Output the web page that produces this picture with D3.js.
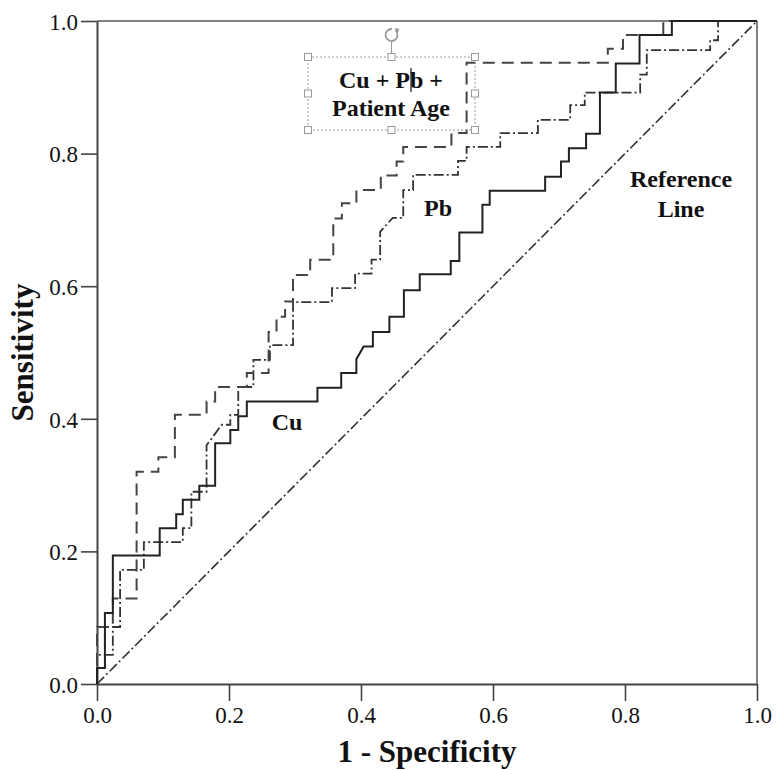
<!DOCTYPE html>
<html>
<head>
<meta charset="utf-8">
<style>
  body { margin: 0; background: #fff; }
  #roc text { font-family: "Liberation Serif", "Times New Roman", serif; fill: #111; }
  #roc .tick text { font-size: 23px; }
  #roc .lbl { font-size: 24px; font-weight: bold; }
  #roc .title { font-size: 31px; font-weight: bold; }
</style>
</head>
<body>
<div id="roc"></div>
<script src="https://cdn.jsdelivr.net/npm/d3@7"></script>
<script>
// tick values
var ticks = [0, 0.2, 0.4, 0.6, 0.8, 1.0];

// Cu (solid)
var cuFpr = [0, 0, 0.012, 0.012, 0.024, 0.024, 0.095, 0.095, 0.120, 0.120, 0.130, 0.130, 0.155, 0.155, 0.179, 0.179,
  0.202, 0.202, 0.214, 0.214, 0.227, 0.227, 0.334, 0.334, 0.370, 0.370, 0.393, 0.393, 0.404, 0.418, 0.418, 0.443,
  0.443, 0.465, 0.465, 0.489, 0.489, 0.536, 0.536, 0.549, 0.549, 0.584, 0.584, 0.595, 0.595, 0.679, 0.679, 0.703,
  0.703, 0.715, 0.715, 0.741, 0.741, 0.762, 0.762, 0.786, 0.786, 0.822, 0.822, 0.871, 0.871, 1];
var cuTpr = [0, 0.024, 0.024, 0.107, 0.107, 0.194, 0.194, 0.235, 0.235, 0.256, 0.256, 0.278, 0.278, 0.299, 0.299, 0.363,
  0.363, 0.383, 0.383, 0.404, 0.404, 0.426, 0.426, 0.447, 0.447, 0.469, 0.469, 0.490, 0.509, 0.509, 0.531, 0.531,
  0.554, 0.554, 0.594, 0.594, 0.618, 0.618, 0.638, 0.638, 0.681, 0.681, 0.723, 0.723, 0.744, 0.744, 0.765, 0.765,
  0.788, 0.788, 0.808, 0.808, 0.830, 0.830, 0.892, 0.892, 0.936, 0.936, 0.979, 0.979, 1, 1];

// Pb (dash-dot)
var pbFpr = [0, 0, 0.024, 0.024, 0.035, 0.035, 0.071, 0.071, 0.130, 0.130, 0.143, 0.143, 0.166, 0.166, 0.189, 0.202,
  0.202, 0.214, 0.214, 0.237, 0.237, 0.262, 0.262, 0.297, 0.297, 0.356, 0.356, 0.391, 0.391, 0.416, 0.416, 0.429,
  0.429, 0.448, 0.464, 0.464, 0.479, 0.479, 0.547, 0.547, 0.560, 0.560, 0.611, 0.611, 0.668, 0.668, 0.717, 0.717,
  0.739, 0.739, 0.823, 0.823, 0.833, 0.833, 0.929, 0.929, 0.941, 0.941, 1];
var pbTpr = [0, 0.044, 0.044, 0.086, 0.086, 0.172, 0.172, 0.214, 0.214, 0.235, 0.235, 0.290, 0.290, 0.360, 0.391, 0.391,
  0.406, 0.406, 0.448, 0.448, 0.489, 0.489, 0.511, 0.511, 0.576, 0.576, 0.597, 0.597, 0.619, 0.619, 0.640, 0.640,
  0.682, 0.703, 0.703, 0.745, 0.745, 0.768, 0.768, 0.789, 0.789, 0.810, 0.810, 0.831, 0.831, 0.851, 0.851, 0.873,
  0.873, 0.892, 0.892, 0.919, 0.919, 0.956, 0.956, 0.971, 0.971, 1, 1];

// Cu + Pb + Patient Age (dashed)
var cpaFpr = [0, 0, 0.024, 0.024, 0.060, 0.060, 0.093, 0.093, 0.118, 0.118, 0.166, 0.166, 0.179, 0.179, 0.227, 0.227,
  0.260, 0.260, 0.272, 0.272, 0.285, 0.285, 0.297, 0.297, 0.323, 0.323, 0.358, 0.358, 0.371, 0.371, 0.393, 0.393,
  0.430, 0.430, 0.454, 0.454, 0.464, 0.464, 0.537, 0.537, 0.560, 0.560, 0.774, 0.774, 0.797, 0.797, 0.858, 0.858, 1];
var cpaTpr = [0, 0.086, 0.086, 0.129, 0.129, 0.320, 0.320, 0.342, 0.342, 0.406, 0.406, 0.426, 0.426, 0.448, 0.448, 0.469,
  0.469, 0.531, 0.531, 0.554, 0.554, 0.577, 0.577, 0.617, 0.617, 0.640, 0.640, 0.702, 0.702, 0.725, 0.725, 0.745,
  0.745, 0.767, 0.767, 0.788, 0.788, 0.810, 0.810, 0.831, 0.831, 0.937, 0.937, 0.958, 0.958, 0.979, 0.979, 1, 1];

// reference line
var refFpr = [0, 1];
var refTpr = [0, 1];

(function () {
  var
    width  = 776,
    height = 770,
    left   = 97,
    right  = 757,
    top    = 21,
    bottom = 684,
    xScale = d3.scaleLinear().domain([0, 1]).range([left, right]),
    yScale = d3.scaleLinear().domain([0, 1]).range([bottom, top]),
    svg    = d3.select('#roc').append('svg')
               .attr('width', width)
               .attr('height', height);

  svg.append('rect')
    .attr('width', width)
    .attr('height', height)
    .attr('fill', '#fff');

  // frame top / right
  svg.append('line')
    .attr('x1', left).attr('y1', top).attr('x2', right).attr('y2', top)
    .attr('stroke', '#808080').attr('stroke-width', 2);
  svg.append('line')
    .attr('x1', right).attr('y1', top).attr('x2', right).attr('y2', bottom)
    .attr('stroke', '#808080').attr('stroke-width', 2);

  var fmt = d3.format('.1f');

  var xAxis = svg.append('g')
    .attr('transform', 'translate(0,' + bottom + ')')
    .call(d3.axisBottom(xScale).tickValues(ticks).tickFormat(fmt).tickSize(17).tickPadding(6).tickSizeOuter(0));
  var yAxis = svg.append('g')
    .attr('transform', 'translate(' + left + ',0)')
    .call(d3.axisLeft(yScale).tickValues(ticks).tickFormat(fmt).tickSize(16).tickPadding(3).tickSizeOuter(0));

  [xAxis, yAxis].forEach(function (a) {
    a.select('.domain').attr('stroke', '#444').attr('stroke-width', 2);
    a.selectAll('.tick line').attr('stroke', '#444').attr('stroke-width', 1.6);
    a.selectAll('.tick text').attr('fill', '#111');
  });
  yAxis.selectAll('.tick text').attr('dy', '0.36em');

  // axis titles
  svg.append('text')
    .attr('class', 'title')
    .attr('x', (left + right) / 2)
    .attr('y', 762)
    .attr('text-anchor', 'middle')
    .text('1 - Specificity');

  svg.append('text')
    .attr('class', 'title')
    .attr('transform', 'translate(33,' + (top + bottom) / 2 + ') rotate(-90)')
    .attr('text-anchor', 'middle')
    .text('Sensitivity');

  function pts(fx, fy) {
    return fx.map(function (d, i) { return [d, fy[i]]; });
  }

  var line = d3.line()
    .x(function (d) { return xScale(d[0]); })
    .y(function (d) { return yScale(d[1]); });

  var curves = [
    { p: pts(refFpr, refTpr), dash: '10,3,2,3', w: 1.6, c: '#333' },
    { p: pts(pbFpr, pbTpr),   dash: '10,3,2,3', w: 1.8, c: '#333' },
    { p: pts(cpaFpr, cpaTpr), dash: '12,7',     w: 2,   c: '#444' },
    { p: pts(cuFpr, cuTpr),   dash: null,       w: 2,   c: '#222' }
  ];

  svg.selectAll('path.curve')
    .data(curves)
    .enter().append('path')
    .attr('class', 'curve')
    .attr('d', function (d) { return line(d.p); })
    .attr('fill', 'none')
    .attr('stroke', function (d) { return d.c; })
    .attr('stroke-width', function (d) { return d.w; })
    .attr('stroke-dasharray', function (d) { return d.dash; });

  // curve labels
  var labels = [
    { t: 'Cu', x: 287, y: 430 },
    { t: 'Pb', x: 438, y: 216 },
    { t: 'Reference', x: 681, y: 187 },
    { t: 'Line', x: 681, y: 217 },
    { t: 'Cu + Pb +', x: 391, y: 88 },
    { t: 'Patient Age', x: 391, y: 116 }
  ];

  // text box selection (as in the picture)
  var box = { x0: 308, y0: 57, x1: 475, y1: 130 };
  var sel = svg.append('g');
  sel.append('rect')
    .attr('x', box.x0).attr('y', box.y0)
    .attr('width', box.x1 - box.x0).attr('height', box.y1 - box.y0)
    .attr('fill', 'none')
    .attr('stroke', '#9a9a9a').attr('stroke-width', 1)
    .attr('stroke-dasharray', '2,2');
  sel.append('line')
    .attr('x1', (box.x0 + box.x1) / 2).attr('y1', 42)
    .attr('x2', (box.x0 + box.x1) / 2).attr('y2', box.y0)
    .attr('stroke', '#9a9a9a');
  sel.append('path')
    .attr('d', d3.arc()({ innerRadius: 6, outerRadius: 6, startAngle: 0.7, endAngle: 2 * Math.PI + 0.1 }))
    .attr('transform', 'translate(' + (box.x0 + box.x1) / 2 + ',35)')
    .attr('fill', 'none').attr('stroke', '#9a9a9a').attr('stroke-width', 1.8);
  sel.append('path')
    .attr('d', 'M' + ((box.x0 + box.x1) / 2 + 3) + ',28 l5,1 l-2,4 z')
    .attr('fill', '#9a9a9a');

  var mx = (box.x0 + box.x1) / 2, my = (box.y0 + box.y1) / 2;
  var handles = [[box.x0, box.y0], [mx, box.y0], [box.x1, box.y0], [box.x0, my], [box.x1, my],
                 [box.x0, box.y1], [mx, box.y1], [box.x1, box.y1]];
  sel.selectAll('rect.h')
    .data(handles)
    .enter().append('rect')
    .attr('class', 'h')
    .attr('x', function (d) { return d[0] - 3.5; })
    .attr('y', function (d) { return d[1] - 3.5; })
    .attr('width', 7).attr('height', 7)
    .attr('fill', '#fff').attr('stroke', '#9a9a9a');

  svg.selectAll('text.lbl')
    .data(labels)
    .enter().append('text')
    .attr('class', 'lbl')
    .attr('x', function (d) { return d.x; })
    .attr('y', function (d) { return d.y; })
    .attr('text-anchor', 'middle')
    .text(function (d) { return d.t; });

  // text cursor
  svg.append('line')
    .attr('x1', 411).attr('y1', 68).attr('x2', 411).attr('y2', 92)
    .attr('stroke', '#111').attr('stroke-width', 1.2);
})();
</script>
</body>
</html>
